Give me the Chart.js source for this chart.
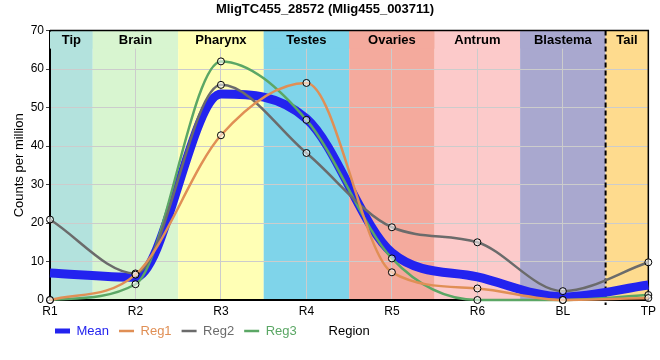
<!DOCTYPE html>
<html><head><meta charset="utf-8">
<script src="https://cdn.jsdelivr.net/npm/chart.js@4/dist/chart.umd.min.js"></script>
<style>html,body{margin:0;padding:0;background:#fff}canvas{display:block}</style>
</head><body>
<canvas id="c" width="660" height="360" style="width:660px;height:360px"></canvas>
<script>
// ---- data ----
const categories = ['R1', 'R2', 'R3', 'R4', 'R5', 'R6', 'BL', 'TP'];
const meanValues = [7.0, 5.9, 53.5, 47.1, 12.3, 6.0, 0.8, 3.9];
const reg1Values = [0, 6.6, 42.8, 56.4, 7.2, 3.0, 0, 0.5];
const reg2Values = [20.9, 6.9, 55.9, 38.2, 18.9, 15.0, 2.3, 9.8];
const reg3Values = [0, 4.1, 62.0, 46.8, 10.8, 0, 0, 1.3];
const regionNames = ['Tip', 'Brain', 'Pharynx', 'Testes', 'Ovaries', 'Antrum', 'Blastema', 'Tail'];
const yMax = 70;
const yStep = 10;
const dividerBefore = 'TP';
const chartTitle = 'MligTC455_28572 (Mlig455_003711)';
const yTitle = 'Counts per million';
const xTitle = 'Region';

// ---- styles ----
const FONT = "'Liberation Sans', Arial, sans-serif";
const bandColors = ['#b3e2dd', '#d8f5d0', '#ffffb5', '#7fd4ea', '#f4aa9d', '#fccaca', '#a9a8cf', '#fedb8e'];
const meanColor = '#2323ef';
const reg1Color = '#e08f55';
const reg2Color = '#6b6b6b';
const reg3Color = '#5ba765';

Chart.defaults.font.family = FONT;
Chart.defaults.color = '#000';

const bandsPlugin = {
  id: 'bands',
  beforeDraw(chart) {
    const {ctx, chartArea: a, scales: {x}} = chart;
    ctx.save();
    ctx.fillStyle = '#fff';
    ctx.fillRect(0, 0, chart.width, chart.height);
    const n = categories.length;
    for (let i = 0; i < n; i++) {
      const x0 = x.getPixelForValue(Math.max(0, i - 0.5));
      const x1 = x.getPixelForValue(Math.min(n - 1, i + 0.5));
      ctx.fillStyle = bandColors[i];
      ctx.fillRect(x0, a.top, x1 - x0, a.bottom - a.top);
    }
    ctx.restore();
  },
  beforeDatasetsDraw(chart) {
    const {ctx, chartArea: a, scales: {x}} = chart;
    const n = categories.length;
    ctx.save();
    for (let i = 0; i < n; i++) {
      const x0 = x.getPixelForValue(Math.max(0, i - 0.5));
      const x1 = x.getPixelForValue(Math.min(n - 1, i + 0.5));
      ctx.fillStyle = bandColors[i];
      ctx.fillRect(x0, a.top + 1, x1 - x0, 17);
    }
    ctx.font = 'bold 13px ' + FONT;
    ctx.fillStyle = '#000';
    ctx.textAlign = 'center';
    ctx.textBaseline = 'middle';
    for (let i = 0; i < n; i++) {
      const x0 = x.getPixelForValue(Math.max(0, i - 0.5));
      const x1 = x.getPixelForValue(Math.min(n - 1, i + 0.5));
      ctx.fillText(regionNames[i], (x0 + x1) / 2, a.top + 9.5);
    }
    ctx.strokeStyle = '#000';
    ctx.lineWidth = 1.5;
    ctx.beginPath();
    ctx.moveTo(a.left, a.top);
    ctx.lineTo(a.right, a.top);
    ctx.lineTo(a.right, a.bottom);
    ctx.stroke();
    const idx = categories.indexOf(dividerBefore);
    const xd = x.getPixelForValue(idx - 0.5);
    ctx.setLineDash([5, 3]);
    ctx.lineWidth = 2;
    ctx.beginPath();
    ctx.moveTo(xd, a.top);
    ctx.lineTo(xd, a.bottom + 5);
    ctx.stroke();
    ctx.restore();
  },
  afterLayout(chart) {
    const lg = chart.legend;
    if (lg) {
      lg.left = 45;
      lg.top = chart.chartArea.bottom + 14.5;
      lg.bottom = lg.top + lg.height;
    }
  },
  afterDraw(chart) {
    const {ctx, chartArea: a} = chart;
    const lg = chart.legend;
    ctx.save();
    ctx.font = '13px ' + FONT;
    ctx.fillStyle = '#000';
    ctx.textAlign = 'center';
    ctx.textBaseline = 'middle';
    ctx.fillText(xTitle, (a.left + a.right) / 2, lg.top + 10 + 6.5);
    ctx.restore();
  }
};

function regDataset(label, values, color) {
  return {
    label, data: values,
    borderColor: color, backgroundColor: color,
    borderWidth: 2.5,
    pointRadius: 3.5, pointBorderWidth: 1,
    pointBorderColor: '#000', pointBackgroundColor: 'rgba(255,255,255,0.55)',
    cubicInterpolationMode: 'monotone',
    clip: 6, order: 0, fill: false,
    legendWidth: 2.5
  };
}

new Chart(document.getElementById('c'), {
  type: 'line',
  data: {
    labels: categories,
    datasets: [
      {
        label: 'Mean', data: meanValues,
        borderColor: meanColor, backgroundColor: meanColor,
        borderWidth: 9, pointRadius: 0,
        cubicInterpolationMode: 'monotone',
        order: 1, fill: false, legendWidth: 5
      },
      regDataset('Reg1', reg1Values, reg1Color),
      regDataset('Reg2', reg2Values, reg2Color),
      regDataset('Reg3', reg3Values, reg3Color)
    ]
  },
  options: {
    responsive: false,
    devicePixelRatio: 1,
    animation: false,
    events: [],
    layout: {padding: {left: 0, right: 10, top: 0, bottom: 5}},
    plugins: {
      title: {
        display: true, text: chartTitle, color: '#000',
        font: {size: 13, weight: 'bold'},
        padding: {top: 2, bottom: 13}
      },
      legend: {
        position: 'bottom', align: 'start',
        labels: {
          usePointStyle: true, pointStyleWidth: 15, padding: 10,
          font: {size: 13},
          generateLabels(chart) {
            return chart.data.datasets.map((ds, i) => ({
              text: ds.label,
              fillStyle: ds.borderColor,
              strokeStyle: ds.borderColor,
              fontColor: ds.borderColor,
              lineWidth: ds.legendWidth,
              lineCap: 'butt',
              pointStyle: 'line',
              hidden: false,
              datasetIndex: i
            }));
          }
        }
      },
      tooltip: {enabled: false}
    },
    scales: {
      x: {
        offset: false,
        grid: {color: '#cccccc', drawTicks: false, lineWidth: 1},
        border: {color: '#000', width: 2},
        ticks: {font: {size: 12}, color: '#000', padding: 4, maxRotation: 0, autoSkip: false},
        afterFit(s) { s.height = 22; }
      },
      y: {
        min: 0, max: yMax,
        ticks: {stepSize: yStep, font: {size: 12}, color: '#000', padding: 2},
        grid: {color: '#cccccc', tickLength: 4, tickColor: '#444'},
        border: {color: '#000', width: 2},
        title: {display: true, text: yTitle, color: '#000', font: {size: 13}, padding: {top: 12, bottom: 0}},
        afterFit(s) { s.width = 50; }
      }
    }
  },
  plugins: [bandsPlugin]
});
</script>
</body></html>
